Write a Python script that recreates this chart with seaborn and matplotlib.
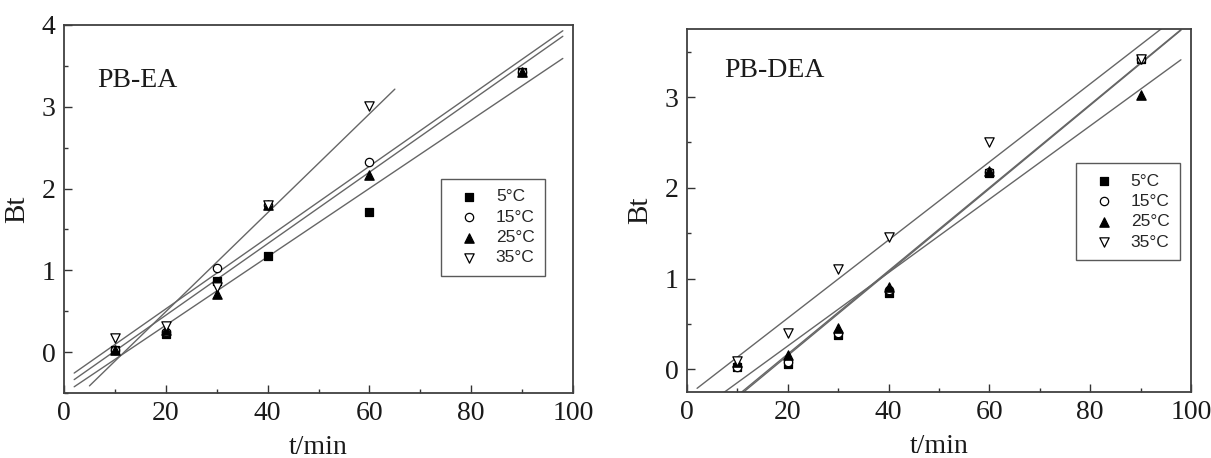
import matplotlib
matplotlib.use('Agg')
import matplotlib.pyplot as plt
import numpy as np
import pandas as pd
import seaborn as sns
from matplotlib.ticker import MultipleLocator

# ---- data ----
temps = ['5°C', '15°C', '25°C', '35°C']

t_ea = [10, 20, 30, 40, 60, 90]
ea_5 = [0.02, 0.22, 0.87, 1.17, 1.71, 3.42]
ea_15 = [0.02, 0.25, 1.03, 1.80, 2.32, 3.42]
ea_25 = [0.02, 0.27, 0.71, 1.80, 2.17, 3.42]
t_ea_35 = [10, 20, 30, 40, 60]
ea_35 = [0.17, 0.32, 0.80, 1.80, 3.01]

t_dea = [10, 20, 30, 40, 60, 90]
dea_5 = [0.03, 0.06, 0.38, 0.84, 2.16, 3.42]
dea_15 = [0.03, 0.08, 0.40, 0.87, 2.17, 3.42]
dea_25 = [0.08, 0.16, 0.45, 0.91, 2.18, 3.02]
dea_35 = [0.09, 0.40, 1.11, 1.46, 2.50, 3.42]

sns.set_theme(style='ticks')
plt.rcParams['font.family'] = ['Liberation Serif', 'DejaVu Serif']

marker_style = {
    '5°C': dict(marker='s', color='black', edgecolor='black', s=30),
    '15°C': dict(marker='o', color='white', edgecolor='black', s=36),
    '25°C': dict(marker='^', color='black', edgecolor='black', s=45),
    '35°C': dict(marker='v', color='white', edgecolor='black', s=45),
}


def draw_panel(ax, series, fit_ranges, ylim, name, name_pos, leg_anchor):
    for temp in temps:
        t, y = series[temp]
        df = pd.DataFrame({'t': t, 'Bt': y})
        sns.scatterplot(data=df, x='t', y='Bt', ax=ax, linewidth=0.9,
                        label=temp, zorder=3, **marker_style[temp])
    # linear fits
    for temp in temps:
        t, y = series[temp]
        k, b = np.polyfit(t, y, 1)
        lo, hi = fit_ranges[temp]
        xs = np.array([lo, hi])
        sns.lineplot(x=xs, y=k * xs + b, ax=ax, color='0.4', linewidth=1.0,
                     zorder=2, legend=False)

    ax.set_xlim(0, 100)
    ax.set_ylim(*ylim)
    ax.xaxis.set_major_locator(MultipleLocator(20))
    ax.xaxis.set_minor_locator(MultipleLocator(10))
    ax.yaxis.set_major_locator(MultipleLocator(1))
    ax.yaxis.set_minor_locator(MultipleLocator(0.5))
    ax.tick_params(which='both', direction='in', colors='0.2', labelcolor='0.1',
                   width=1.0)
    ax.tick_params(which='major', length=5.5, labelsize=20, pad=6)
    ax.tick_params(which='minor', length=3)
    for sp in ax.spines.values():
        sp.set_visible(True)
        sp.set_color('0.25')
        sp.set_linewidth(1.3)
    ax.set_xlabel('t/min', fontsize=20, color='0.1', labelpad=6)
    ax.set_ylabel('Bt', fontsize=21, color='0.1', labelpad=8)
    ax.text(name_pos[0], name_pos[1], name, transform=ax.transAxes,
            fontsize=20, color='0.1', va='baseline', ha='left')

    leg = ax.legend(loc='upper left', bbox_to_anchor=leg_anchor, borderaxespad=0,
                    prop={'family': 'Liberation Sans', 'size': 12.5},
                    fancybox=False, framealpha=1, edgecolor='0.35',
                    borderpad=0.6, handlelength=2.0, handletextpad=0.55,
                    labelspacing=0.3, markerscale=1.0)
    leg.get_frame().set_linewidth(1.0)


fig = plt.figure(figsize=(12.11, 4.58), dpi=100)
ax1 = fig.add_axes([64 / 1211, 1 - 393 / 458, 509 / 1211, 368 / 458])
ax2 = fig.add_axes([687 / 1211, 1 - 392 / 458, 504 / 1211, 363 / 458])

ea_series = {
    '5°C': (t_ea, ea_5),
    '15°C': (t_ea, ea_15),
    '25°C': (t_ea, ea_25),
    '35°C': (t_ea_35, ea_35),
}
ea_ranges = {'5°C': (2, 98), '15°C': (2, 98), '25°C': (2, 98), '35°C': (5, 65)}

dea_series = {
    '5°C': (t_dea, dea_5),
    '15°C': (t_dea, dea_15),
    '25°C': (t_dea, dea_25),
    '35°C': (t_dea, dea_35),
}
dea_ranges = {k: (2, 98) for k in temps}

draw_panel(ax1, ea_series, ea_ranges, (-0.5, 4), 'PB-EA', (0.065, 0.832),
           (0.741, 0.582))
draw_panel(ax2, dea_series, dea_ranges, (-0.25, 3.75), 'PB-DEA', (0.073, 0.869),
           (0.772, 0.631))
ax2.set_yticks([0, 1, 2, 3])

fig.savefig('out.png', dpi=100)
